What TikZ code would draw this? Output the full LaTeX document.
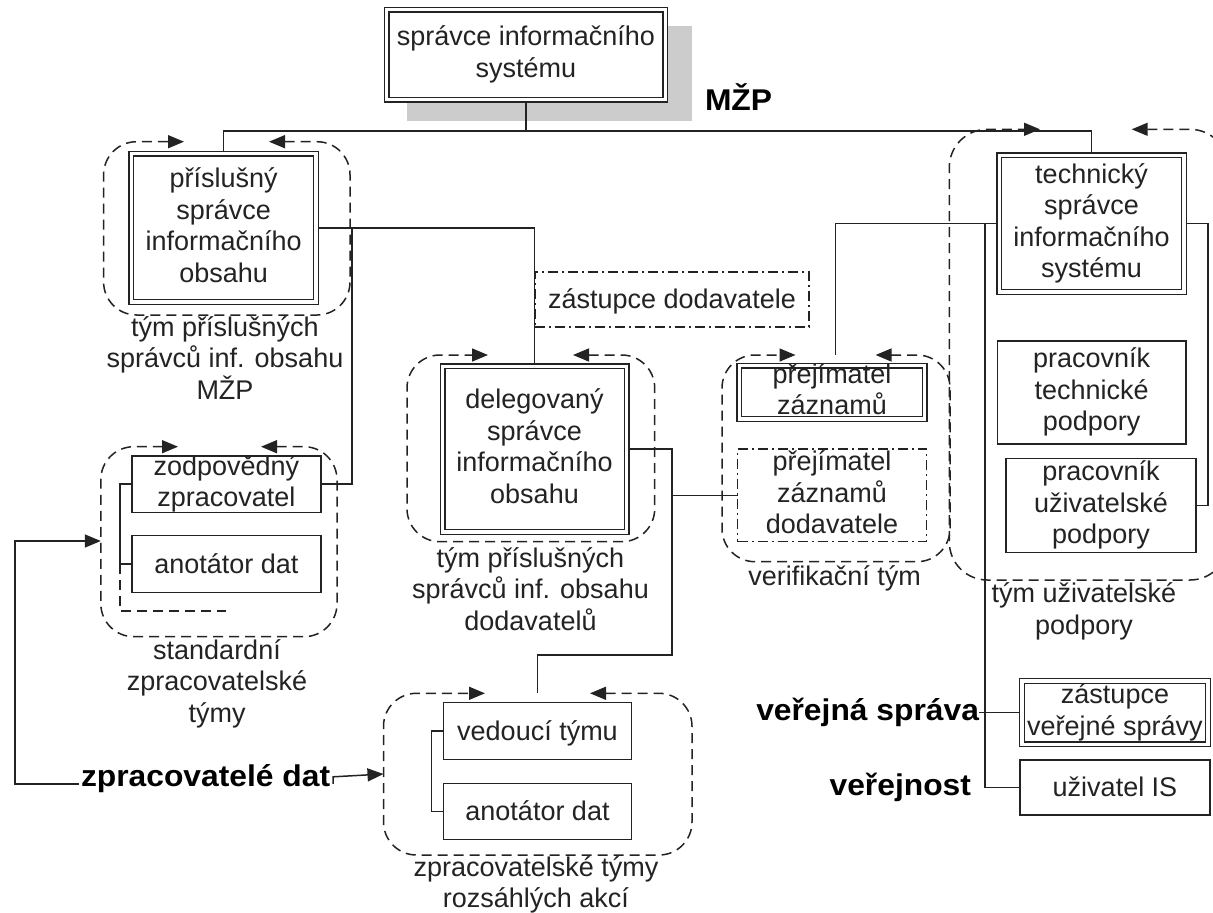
\documentclass[tikz,border=0pt]{standalone}
\usepackage{fontspec}
\setmainfont{Liberation Sans}
\newfontfamily\boldlab[FakeStretch=1.06]{Liberation Sans}
\usetikzlibrary{arrows.meta}
\newcommand\lblstrut{\rule[-6pt]{0pt}{30pt}}
\definecolor{shadowgray}{RGB}{204,204,204}
\definecolor{ink}{RGB}{35,35,35}
\begin{document}
\begin{tikzpicture}[x=1pt,y=-1pt,
  every node/.style={inner sep=0pt, outer sep=0pt},
  txt/.style={align=center, font=\fontsize{27}{31.5}\selectfont, text=ink,
     execute at begin node=\lblstrut, execute at end node=\lblstrut},
  boldtxt/.style={font=\boldlab\bfseries\fontsize{30}{34}\selectfont, text=black},
  sbox/.style={draw=ink, line width=1.5pt, fill=white, rectangle, outer sep=0.75pt},
  dbox/.style={draw=ink, line width=1.3pt, double=white, double distance=3.4pt, fill=white, rectangle, outer sep=3pt},
  ddbox/.style={draw=ink, line width=1.3pt, dash pattern=on 10pt off 4pt on 2pt off 4pt, fill=white, rectangle},
  team/.style={draw=ink, line width=1.5pt, dash pattern=on 10pt off 6pt, rounded corners=33pt,
     arrows={Triangle[length=16pt,width=13pt]-Triangle[length=16pt,width=13pt]}},
  conn/.style={draw=ink, line width=1.5pt},
  dashln/.style={draw=ink, line width=1.5pt, dash pattern=on 10pt off 6pt},
  arr/.style={arrows={-Triangle[length=16pt,width=13pt]}},
]
\useasboundingbox (0,0) rectangle (1213,913);
\fill[white] (0,0) rectangle (1213,913);

% shadow and top box
\fill[shadowgray] (407,26) rectangle (692,121);
\node[dbox, minimum width=278.8pt, minimum height=90.2pt] (top) at (525.9,54.6) {};
\node[txt] (topT) at (top.center) {správce informačního\\systému};
\node[boldtxt, anchor=base west] (mzp) at (705,110) {MŽP};

% team frames
\draw[team] (269,141.7) -- (350,141.7) -- (350,315) -- (103.6,315) -- (103.6,141.7) -- (184,141.7);
\draw[team] (261,446.7) -- (337,446.7) -- (337,636.7) -- (100.8,636.7) -- (100.8,446.7) -- (178,446.7);
\draw[team] (573,355) -- (654.7,355) -- (654.7,541.7) -- (407,541.7) -- (407,355) -- (488,355);
\draw[team] (875.6,355) -- (950,355) -- (950,561.7) -- (722,561.7) -- (722,355) -- (795.5,355);
\draw[team] (590,693.3) -- (692,693.3) -- (692,855) -- (383.5,855) -- (383.5,693.3) -- (485,693.3);
\begin{scope}
\clip (0,0) rectangle (1213,913);
\draw[team, rounded corners=38pt] (1131.7,129.3) -- (1228,129.3) -- (1228,580) -- (949.3,580) -- (949.3,129.3) -- (1040,129.3);
\end{scope}

% boxes
\node[dbox, minimum width=184.5pt, minimum height=148.3pt] (prisl) at (223.7,227.9) {};
\node[txt] (prislT) at (prisl.center) {příslušný\\správce\\informačního\\obsahu};
\node[dbox, minimum width=184pt, minimum height=165.5pt] (deleg) at (534.5,449.2) {};
\node[txt] (delegT) at (deleg.center) {delegovaný\\správce\\informačního\\obsahu};
\node[dbox, minimum width=184.6pt, minimum height=136.7pt] (tech) at (1091.5,223.7) {};
\node[txt] (techT) at (tech.center) {technický\\správce\\informačního\\systému};
\node[dbox, minimum width=185.5pt, minimum height=53.3pt] (prej) at (832,392.3) {};
\node[txt] (prejT) at (prej.center) {přejímatel\\záznamů};
\node[dbox, minimum width=185.9pt, minimum height=63.5pt] (zastVS) at (1115,712.6) {};
\node[txt] (zastVST) at (zastVS.center) {zástupce\\veřejné správy};

\node[sbox, minimum width=189.3pt, minimum height=56.3pt] (zodp) at (226.4,484.2) {};
\node[txt] (zodpT) at (zodp.center) {zodpovědný\\zpracovatel};
\node[sbox, minimum width=189.3pt, minimum height=56.6pt] (anot1) at (226.4,564) {};
\node[txt] (anot1T) at (anot1.center) {anotátor dat};
\node[sbox, minimum width=188.4pt, minimum height=56.6pt] (ved) at (537.5,731) {};
\node[txt] (vedT) at (ved.center) {vedoucí týmu};
\node[sbox, minimum width=188.4pt, minimum height=56pt] (anot2) at (537.5,811.3) {};
\node[txt] (anot2T) at (anot2.center) {anotátor dat};
\node[sbox, minimum width=188.7pt, minimum height=103.3pt] (pracT) at (1091.7,392.4) {};
\node[txt] (pracTT) at (pracT.center) {pracovník\\technické\\podpory};
\node[sbox, minimum width=190pt, minimum height=94.4pt] (pracU) at (1101,505.5) {};
\node[txt] (pracUT) at (pracU.center) {pracovník\\uživatelské\\podpory};
\node[sbox, minimum width=190pt, minimum height=55pt] (uzis) at (1115,787.5) {};
\node[txt] (uzisT) at (uzis.center) {uživatel IS};
\node[ddbox, minimum width=188.8pt, minimum height=92.7pt] (dodav) at (832,495.3) {};
\node[txt] (dodavT) at (dodav.center) {přejímatel\\záznamů\\dodavatele};

% team labels
\node[txt] (lprisl) at (225,361) {tým příslušných\\správců inf. obsahu\\MŽP};
\node[txt] (lstd) at (217,684) {standardní\\zpracovatelské\\týmy};
\node[txt] (ldeleg) at (530.5,592) {tým příslušných\\správců inf. obsahu\\dodavatelů};
\node[txt] (lver) at (834.6,576.7) {verifikační tým};
\node[txt] (luziv) at (1084,611.7) {tým uživatelské\\podpory};
\node[txt] (lrozs) at (536,885) {zpracovatelské týmy\\rozsáhlých akcí};

% bold labels
\node[boldtxt, anchor=base west] (zpdat) at (81,786.7) {zpracovatelé dat};
\node[boldtxt, anchor=base east] (vs) at (979,720) {veřejná správa};
\node[boldtxt, anchor=base east] (verej) at (971,795) {veřejnost};

% connectors
\coordinate (bus) at (525.9,131);
\draw[conn] (top.south) -- (bus);
\draw[conn] (prisl.north) |- (bus) -| (tech.north);
\draw[conn] (prisl.east) -| (deleg.north);
\coordinate (j1) at (352,227.9);
\draw[conn] (j1) |- (zodp.east);
\draw[conn] (zodp.west) -- ++(-11,0) coordinate (bk1) |- (anot1.west);
\coordinate (bk2) at (bk1 |- anot1.west);
\draw[dashln] (bk2) -- ++(0,47) -- ++(106.4,0);
\coordinate (j3) at (672,655);
\coordinate (vtop) at (537.5,693.3);
\draw[conn] (deleg.east) -| (j3) -| (vtop);
\draw[conn] (dodav.west) -- (dodav.west -| j3);
\draw[conn] (ved.west) -- ++(-11,0) |- (anot2.west);
\coordinate (ptop) at (835.7,355);
\draw[conn] (ptop) |- (tech.west);
\coordinate (k1) at (985,223.7);
\draw[conn] (k1) |- (uzis.west);
\draw[conn] (zastVS.west) -- (zastVS.west -| vs.east);
\draw[conn] (tech.east) -- ++(21,0) |- (pracU.east);
\coordinate (lc) at (15,541);
\coordinate (stdL) at (100.8,541);
\draw[conn, arr] (zpdat.west) ++(-2,5) -| (lc) -- (stdL);
\coordinate (rzL) at (383.5,774);
\draw[conn, arr] (zpdat.east) ++(3,5) -- ++(0,-7) -- (rzL);

% dash-dot box over the connector
\node[ddbox, minimum width=274pt, minimum height=55pt] (zastD) at (672,299.5) {};
\node[txt] (zastDT) at (zastD.center) {zástupce dodavatele};
\end{tikzpicture}
\end{document}
